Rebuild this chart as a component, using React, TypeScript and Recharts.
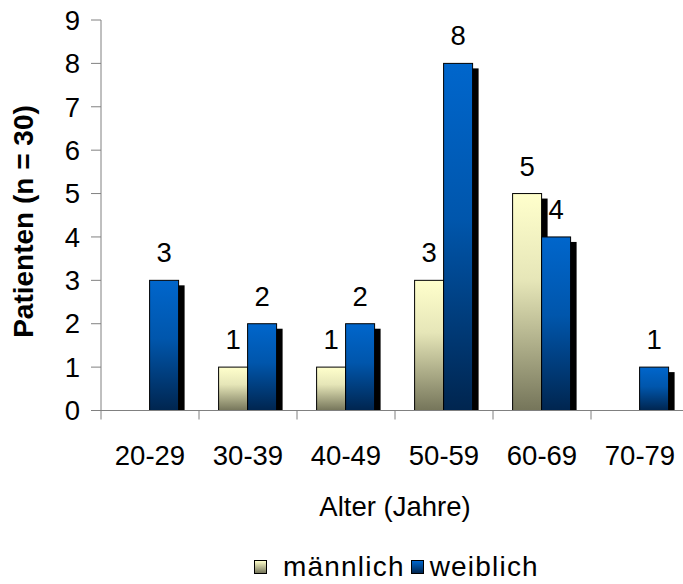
import React from "react";
import { Bar, BarChart, LabelList, XAxis, YAxis } from "recharts";

const CATEGORIES = ["20-29", "30-39", "40-49", "50-59", "60-69", "70-79"];
const MAENNLICH: (number | null)[] = [null, 1, 1, 3, 5, null];
const WEIBLICH: (number | null)[] = [3, 2, 2, 8, 4, 1];
const Y_TICKS = [0, 1, 2, 3, 4, 5, 6, 7, 8, 9];

const FONT = '"Liberation Sans", Arial, sans-serif';
const AXIS_GRAY = "#808080";

const CHART_W = 689;
const CHART_H = 584;
const Y_AXIS_W = 101;
const HALF_BAND = (CHART_W - Y_AXIS_W) / CATEGORIES.length / 2;

const data = CATEGORIES.map((gruppe, i) => ({
  gruppe,
  maennlich: MAENNLICH[i],
  weiblich: WEIBLICH[i],
}));

// bar with a black drop shadow, like the old office charts
function ShadowBar(props: any) {
  const { x, y, width, height, fill } = props;
  if (!height || height <= 0) return null;
  return (
    <g>
      <rect x={x + 6} y={y + 5} width={width} height={Math.max(0, height - 5)} fill="#000" />
      <rect x={x} y={y} width={width} height={height} fill={fill} stroke="#000" strokeWidth={1} />
    </g>
  );
}

// category label plus a tick mark on the left boundary of each band
function CategoryTick(props: any) {
  const { x, y, payload } = props;
  return (
    <g>
      <line x1={x - HALF_BAND} x2={x - HALF_BAND} y1={y} y2={y + 9} stroke={AXIS_GRAY} />
      <text x={x} y={y + 54.5} textAnchor="middle" fontSize={27.5} fontFamily={FONT} fill="#000">
        {payload.value}
      </text>
    </g>
  );
}

function YTitle() {
  return (
    <text
      x={33}
      y={221.5}
      transform="rotate(-90 33 221.5)"
      textAnchor="middle"
      fontSize={28}
      fontWeight="bold"
      fontFamily={FONT}
      fill="#000"
    >
      Patienten (n = 30)
    </text>
  );
}

const labelStyle = { fontSize: 27.5, fontFamily: FONT, fill: "#000" };

function Swatch({ from, to, style }: { from: string; to: string; style?: React.CSSProperties }) {
  return (
    <span
      style={{
        display: "inline-block",
        width: 11,
        height: 12,
        border: "1px solid #000",
        background: `linear-gradient(${from}, ${to})`,
        ...style,
      }}
    />
  );
}

export default function App() {
  return (
    <div style={{ position: "absolute", left: 0, top: 0, width: 683, height: CHART_H, overflow: "hidden", background: "#fff" }}>
      <BarChart
        width={CHART_W}
        height={CHART_H}
        data={data}
        margin={{ top: 20, right: 0, bottom: 0, left: 0 }}
        barCategoryGap="20%"
        barGap={0}
      >
        <defs>
          <linearGradient id="gradWeiblich" x1="0" y1="0" x2="0" y2="1">
            <stop offset="0%" stopColor="#0066cc" />
            <stop offset="45%" stopColor="#0056ac" />
            <stop offset="100%" stopColor="#00254f" />
          </linearGradient>
          <linearGradient id="gradMaennlich" x1="0" y1="0" x2="0" y2="1">
            <stop offset="0%" stopColor="#ffffcc" />
            <stop offset="40%" stopColor="#e6e6b8" />
            <stop offset="100%" stopColor="#75755a" />
          </linearGradient>
        </defs>
        <XAxis
          dataKey="gruppe"
          height={173.5}
          tickLine={false}
          tickSize={0}
          tickMargin={0}
          interval={0}
          axisLine={{ stroke: AXIS_GRAY }}
          tick={<CategoryTick />}
          label={{
            value: "Alter (Jahre)",
            position: "insideTop",
            offset: 86,
            style: { fontSize: 27.5, fontFamily: FONT, fill: "#000" },
          }}
        />
        <YAxis
          width={Y_AXIS_W}
          domain={[0, 9]}
          ticks={Y_TICKS}
          interval={0}
          tickSize={10}
          tickMargin={11}
          axisLine={{ stroke: AXIS_GRAY }}
          tickLine={{ stroke: AXIS_GRAY }}
          tick={{ fontSize: 27.5, fontFamily: FONT, fill: "#000" }}
          label={{ content: () => <YTitle /> }}
        />
        <Bar dataKey="maennlich" fill="url(#gradMaennlich)" shape={<ShadowBar />} isAnimationActive={false}>
          <LabelList dataKey="maennlich" position="top" offset={18} style={labelStyle} />
        </Bar>
        <Bar dataKey="weiblich" fill="url(#gradWeiblich)" shape={<ShadowBar />} isAnimationActive={false}>
          <LabelList dataKey="weiblich" position="top" offset={18} style={labelStyle} />
        </Bar>
      </BarChart>
      <div
        style={{
          position: "absolute",
          left: 254,
          top: 551,
          display: "flex",
          alignItems: "center",
          fontFamily: FONT,
          fontSize: 28,
          letterSpacing: 1.2,
          color: "#000",
          whiteSpace: "nowrap",
        }}
      >
        <Swatch from="#ffffcc" to="#75755a" style={{ marginRight: 16 }} />
        <span>männlich</span>
        <Swatch from="#0066cc" to="#00254f" style={{ marginLeft: 6, marginRight: 6 }} />
        <span>weiblich</span>
      </div>
    </div>
  );
}
